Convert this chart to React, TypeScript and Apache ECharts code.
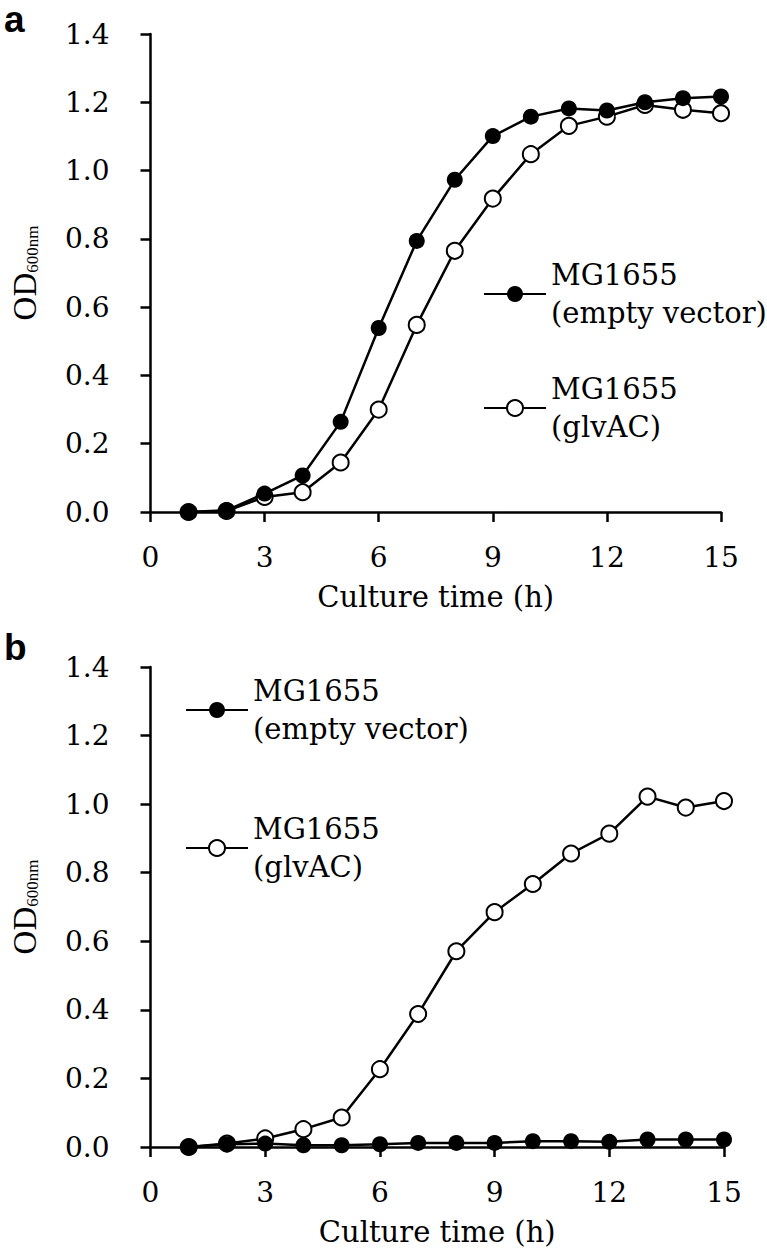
import React, { useEffect, useRef } from "react";
import * as echarts from "echarts";

const hours = [1, 2, 3, 4, 5, 6, 7, 8, 9, 10, 11, 12, 13, 14, 15];
const aEmpty = [0.0, 0.005, 0.054, 0.107, 0.264, 0.539, 0.794, 0.973, 1.101, 1.158, 1.182, 1.176, 1.2, 1.212, 1.217];
const aGlv = [0.0, 0.003, 0.044, 0.058, 0.145, 0.3, 0.548, 0.765, 0.918, 1.048, 1.131, 1.158, 1.192, 1.178, 1.168];
const bEmpty = [0.0, 0.008, 0.01, 0.005, 0.005, 0.008, 0.012, 0.012, 0.012, 0.017, 0.017, 0.015, 0.022, 0.022, 0.022];
const bGlv = [0.0, 0.01, 0.025, 0.052, 0.086, 0.227, 0.388, 0.571, 0.685, 0.767, 0.856, 0.914, 1.022, 0.99, 1.009];
const nameEmpty = "MG1655 (empty vector)";
const nameGlv = "MG1655 (glvAC)";
const panelLabels = ["a", "b"];
const xTitle = "Culture time (h)";

const SERIF = "DejaVu Serif";

function pairs(ys: number[]) {
  return hours.map((h, i) => [h, ys[i]]);
}

export default function App() {
  const ref = useRef<HTMLDivElement>(null);
  useEffect(() => {
    if (!ref.current) return;
    const chart = echarts.init(ref.current, undefined, { renderer: "svg" });
    const grids = [
      { left: 137, top: 34, width: 584, height: 478 },
      { left: 140, top: 667, width: 584, height: 480 },
    ];
    const xAxis = grids.map((_, i) => ({
      type: "value",
      gridIndex: i,
      min: 0,
      max: 15,
      interval: 3,
      name: xTitle,
      nameLocation: "middle",
      nameGap: 70,
      nameTextStyle: { fontFamily: SERIF, fontSize: 29, color: "#000" },
      axisLine: { lineStyle: { color: "#000", width: 2.5 } },
      axisTick: { length: 10, lineStyle: { color: "#000", width: 2.5 } },
      axisLabel: { fontFamily: SERIF, fontSize: 28, color: "#000", margin: 31 },
      splitLine: { show: false },
    }));
    const yAxis = grids.map((_, i) => ({
      type: "value",
      gridIndex: i,
      min: 0,
      max: 1.4,
      interval: 0.2,
      name: "{a|OD}{b|600nm}",
      nameLocation: "middle",
      nameGap: 110,
      nameTextStyle: {
        rich: {
          a: { fontFamily: "Liberation Serif", fontSize: 33, color: "#000", lineHeight: 32 },
          b: { fontFamily: "Liberation Serif", fontSize: 17, color: "#000", lineHeight: 14, verticalAlign: "bottom" },
        },
      },
      axisLine: { lineStyle: { color: "#000", width: 2.5 } },
      axisTick: { length: 10, lineStyle: { color: "#000", width: 2.5 } },
      axisLabel: {
        fontFamily: SERIF,
        fontSize: 28,
        color: "#000",
        margin: 41,
        formatter: (v: number) => v.toFixed(1),
      },
      splitLine: { show: false },
    }));
    const mk = (name: string, data: number[], idx: number, filled: boolean, z: number) => ({
      type: "line",
      name,
      xAxisIndex: idx,
      yAxisIndex: idx,
      data: pairs(data),
      symbol: filled ? "circle" : "emptyCircle",
      symbolSize: 16,
      z,
      lineStyle: { color: "#000", width: 2.5 },
      itemStyle: { color: "#000", borderColor: "#000", borderWidth: filled ? 0 : 2.2 },
    });
    const legendBase = {
      orient: "vertical",
      padding: 0,
      itemWidth: 62,
      itemHeight: 20,
      data: [nameEmpty, nameGlv],
      selectedMode: false,
      formatter: (n: string) => n.replace(" (", "\n("),
      textStyle: {
        fontFamily: SERIF,
        fontSize: 29,
        color: "#000",
        lineHeight: 38,
        padding: [38, 0, 0, 0],
      },
    };
    chart.setOption({
      animation: false,
      backgroundColor: "#fff",
      grid: grids,
      xAxis,
      yAxis,
      legend: [
        { ...legendBase, left: 483, top: 237, itemGap: 0 },
        { ...legendBase, left: 185, top: 653, itemGap: 24 },
      ],
      graphic: [
        {
          type: "text",
          left: 4,
          top: 1,
          style: { text: panelLabels[0], fontFamily: "Liberation Sans", fontWeight: "bold", fontSize: 37, lineHeight: 28, fill: "#000" },
        },
        {
          type: "text",
          left: 4,
          top: 629,
          style: { text: panelLabels[1], fontFamily: "Liberation Sans", fontWeight: "bold", fontSize: 37, lineHeight: 28, fill: "#000" },
        },
      ],
      series: [
        mk(nameGlv, aGlv, 0, false, 2),
        mk(nameEmpty, aEmpty, 0, true, 3),
        mk(nameGlv, bGlv, 1, false, 2),
        mk(nameEmpty, bEmpty, 1, true, 3),
      ],
    });
    return () => chart.dispose();
  }, []);
  return (
    <div
      ref={ref}
      style={{ position: "absolute", left: 0, top: 0, width: 767, height: 1255, background: "#fff" }}
    />
  );
}
